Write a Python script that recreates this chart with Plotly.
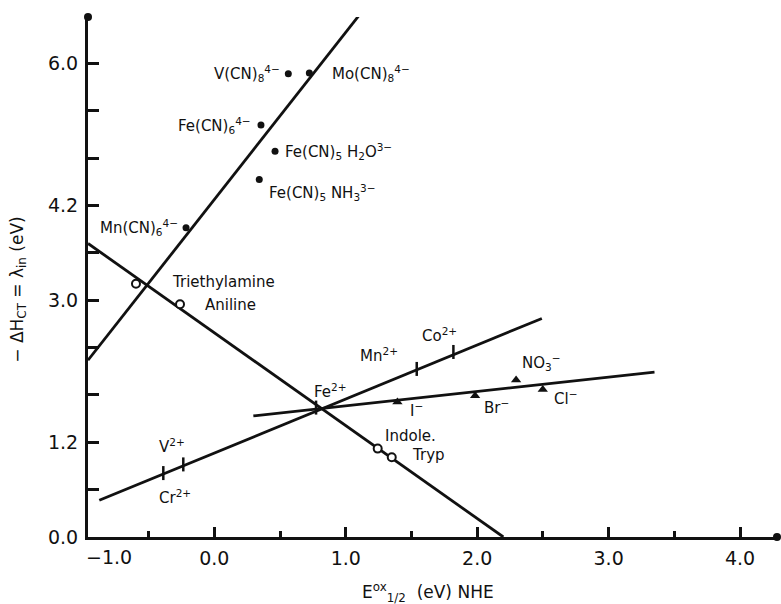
import plotly.graph_objects as go

# ---------------- data ----------------
# cyanide complexes (filled dots) and their correlation line
cn_names = ["Mn(CN)<sub>6</sub><sup>4−</sup>", "Fe(CN)<sub>6</sub><sup>4−</sup>",
            "V(CN)<sub>8</sub><sup>4−</sup>", "Mo(CN)<sub>8</sub><sup>4−</sup>",
            "Fe(CN)<sub>5</sub> H<sub>2</sub>O<sup>3−</sup>", "Fe(CN)<sub>5</sub> NH<sub>3</sub><sup>3−</sup>"]
cn_x = [-0.215, 0.355, 0.563, 0.723, 0.462, 0.342]
cn_y = [3.92, 5.22, 5.87, 5.88, 4.89, 4.53]
cn_line_x = [-0.961, 1.101]
cn_line_y = [2.24, 6.61]

# organic donors (open circles)
org_names = ["Triethylamine", "Aniline", "Indole.", "Tryp"]
org_x = [-0.596, -0.261, 1.243, 1.350]
org_y = [3.21, 2.95, 1.12, 1.01]
org_line_x = [-0.961, 2.199]
org_line_y = [3.72, 0.0]

# aquo metal ions (ticks)
met_names = ["Cr<sup>2+</sup>", "V<sup>2+</sup>", "Fe<sup>2+</sup>", "Mn<sup>2+</sup>", "Co<sup>2+</sup>"]
met_x = [-0.388, -0.236, 0.774, 1.540, 1.819]
met_y = [0.81, 0.92, 1.64, 2.13, 2.345]
met_line_x = [-0.875, 2.492]
met_line_y = [0.465, 2.77]

# anions (triangles)
an_names = ["I<sup>−</sup>", "Br<sup>−</sup>", "NO<sub>3</sub><sup>−</sup>", "Cl<sup>−</sup>"]
an_x = [1.393, 1.984, 2.296, 2.499]
an_y = [1.71, 1.79, 1.99, 1.87]
an_line_x = [0.297, 3.349]
an_line_y = [1.534, 2.09]

# axes
x_range = [-0.961, 4.281]
y_range = [0.0, 6.59]
x_tickvals = [0.0, 1.0, 2.0, 3.0, 4.0]
x_ticktext = ["0.0", "1.0", "2.0", "3.0", "4.0"]
x_minorvals = [-0.5, 0.5, 1.5, 2.5, 3.5]
x_first_label = "−1.0"
x_first_label_pos = -0.80
y_tickvals = [0.0, 0.6, 1.2, 1.8, 2.4, 3.0, 3.6, 4.2, 4.8, 5.4, 6.0]
y_ticktext = ["0.0", "", "1.2", "", "", "3.0", "", "4.2", "", "", "6.0"]

# ---------------- label placement (pixels) ----------------
cn_lab = [("right", -6, 0), ("right", -8, 0), ("right", -6, 0),
          ("left", 21, 0), ("left", 8, 0), ("left", 8, -13)]
org_lab = [("left", 34, 2), ("left", 23, -1), ("left", 5, 13), ("left", 18, 2)]
met_lab = [("left", -6, -24), ("left", -26, 18), ("left", -4, 17),
           ("right", -17, 14), ("left", -33, 17)]
an_lab = [("left", 11, -8), ("left", 7, -11), ("left", 4, 17), ("left", 9, -9)]

FONT = "DejaVu Sans"
BLACK = "#111111"
LW = 2.8
TICK_SIZE = 19

fig = go.Figure()

def add_line(xs, ys):
    fig.add_trace(go.Scatter(x=xs, y=ys, mode="lines",
                             line=dict(color=BLACK, width=LW),
                             hoverinfo="skip", showlegend=False))

for xs, ys in [(cn_line_x, cn_line_y), (org_line_x, org_line_y),
               (met_line_x, met_line_y), (an_line_x, an_line_y)]:
    add_line(xs, ys)

fig.add_trace(go.Scatter(x=cn_x, y=cn_y, mode="markers", showlegend=False,
                         marker=dict(symbol="circle", size=7, color=BLACK)))
fig.add_trace(go.Scatter(x=org_x, y=org_y, mode="markers", showlegend=False,
                         marker=dict(symbol="circle", size=8, color="white",
                                     line=dict(color=BLACK, width=2))))
fig.add_trace(go.Scatter(x=met_x, y=met_y, mode="markers", showlegend=False,
                         marker=dict(symbol="line-ns", size=10,
                                     line=dict(color=BLACK, width=2.5))))
fig.add_trace(go.Scatter(x=an_x, y=an_y, mode="markers", showlegend=False,
                         marker=dict(symbol="triangle-up", size=9, color=BLACK)))

# axis end dots
fig.add_trace(go.Scatter(x=[x_range[0], x_range[1]], y=[y_range[1], y_range[0]],
                         mode="markers", cliponaxis=False, showlegend=False,
                         marker=dict(symbol="circle", size=8, color=BLACK)))

annotations = []
for names, xs, ys, labs in [(cn_names, cn_x, cn_y, cn_lab),
                            (org_names, org_x, org_y, org_lab),
                            (met_names, met_x, met_y, met_lab),
                            (an_names, an_x, an_y, an_lab)]:
    for n, x, y, (anc, dx, dy) in zip(names, xs, ys, labs):
        annotations.append(dict(x=x, y=y, xref="x", yref="y", text=n,
                                showarrow=False, xanchor=anc, yanchor="middle",
                                xshift=dx, yshift=dy,
                                font=dict(family=FONT, size=15, color=BLACK)))

annotations.append(dict(x=x_first_label_pos, y=-0.038, xref="x", yref="paper",
                        text=x_first_label, showarrow=False, xanchor="center",
                        yanchor="middle", font=dict(family=FONT, size=TICK_SIZE, color=BLACK)))
annotations.append(dict(x=-0.102, y=0.475, xref="paper", yref="paper",
                        text="− ΔH<sub>CT</sub> = λ<sub>in</sub> (eV)", textangle=-90,
                        showarrow=False, xanchor="center", yanchor="middle",
                        font=dict(family=FONT, size=17, color=BLACK)))
annotations.append(dict(x=0.493, y=-0.106, xref="paper", yref="paper",
                        text="E<sup>ox</sup><sub>1/2</sub>  (eV) NHE",
                        showarrow=False, xanchor="center", yanchor="middle",
                        font=dict(family=FONT, size=17, color=BLACK)))

fig.update_layout(
    width=781, height=604,
    margin=dict(l=88, r=4, t=17, b=67),
    paper_bgcolor="white", plot_bgcolor="white",
    showlegend=False,
    annotations=annotations,
    xaxis=dict(range=x_range, showgrid=False, zeroline=False,
               showline=True, linecolor=BLACK, linewidth=3,
               tickmode="array", tickvals=x_tickvals, ticktext=x_ticktext,
               ticks="inside", ticklen=10, tickwidth=2.5, tickcolor=BLACK,
               ticklabelstandoff=2,
               minor=dict(tickvals=x_minorvals, ticks="inside", ticklen=6,
                          tickwidth=2.5, tickcolor=BLACK, showgrid=False),
               tickfont=dict(family=FONT, size=TICK_SIZE, color=BLACK)),
    yaxis=dict(range=y_range, showgrid=False, zeroline=False,
               showline=True, linecolor=BLACK, linewidth=3,
               tickmode="array", tickvals=y_tickvals, ticktext=y_ticktext,
               ticks="inside", ticklen=11, tickwidth=2.5, tickcolor=BLACK,
               ticklabelstandoff=3,
               tickfont=dict(family=FONT, size=TICK_SIZE, color=BLACK)),
)

fig.write_html("out.html")
